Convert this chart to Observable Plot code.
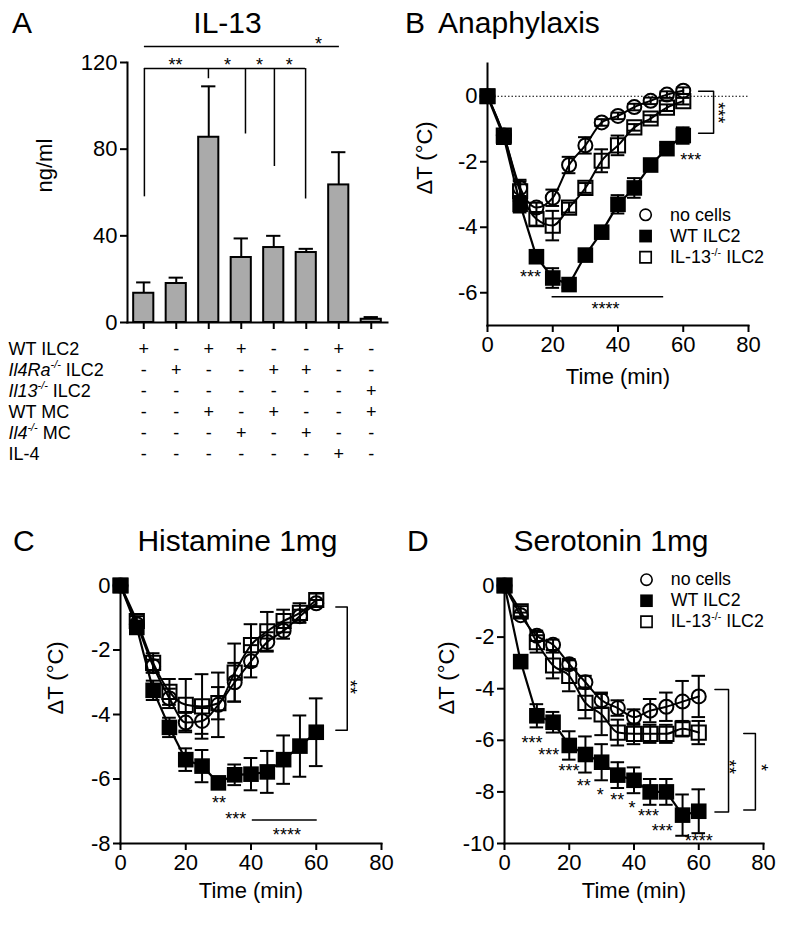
<!DOCTYPE html>
<html><head><meta charset="utf-8">
<script src="https://cdn.jsdelivr.net/npm/d3@7"></script>
<script src="https://cdn.jsdelivr.net/npm/@observablehq/plot@0.6"></script>
<style>
body{margin:0;background:#fff;}
#root{position:relative;width:800px;height:925px;background:#fff;font-family:"Liberation Sans",Arial,sans-serif;color:#000;overflow:hidden;}
.pos{position:absolute;}
.ttl{position:absolute;font-size:30px;line-height:30px;white-space:nowrap;}
.ctr{width:400px;text-align:center;}
</style></head><body><div id="root"></div>
<script>
// ---------- Panel A data ----------
const conditions = [1, 2, 3, 4, 5, 6, 7, 8];
const il13Mean = [13.5, 18, 85.5, 30, 34.6, 32.3, 63.5, 1.5];
const il13Sem = [5, 2.7, 23.5, 8.8, 5.4, 1.7, 15.1, 1.0];
const rowLabels = ["WT ILC2", "Il4Ra-/- ILC2", "Il13-/- ILC2", "WT MC", "Il4-/- MC", "IL-4"];
const rowSigns = [
  ["+", "-", "+", "+", "-", "-", "+", "-"],
  ["-", "+", "-", "-", "+", "+", "-", "-"],
  ["-", "-", "-", "-", "-", "-", "-", "+"],
  ["-", "-", "+", "-", "+", "-", "-", "+"],
  ["-", "-", "-", "+", "-", "+", "-", "-"],
  ["-", "-", "-", "-", "-", "-", "+", "-"]
];
const sigALines = [{x1: 1.02, x2: 7.02, y: 127.4}, {x1: 1.02, x2: 5.98, y: 117.2}];
const sigADrops = [
  {x: 1.02, y1: 117.2, y2: 58}, {x: 2.99, y1: 117.2, y2: 112.5}, {x: 4.13, y1: 117.2, y2: 87},
  {x: 5.02, y1: 117.2, y2: 72}, {x: 5.98, y1: 117.2, y2: 57}
];
const sigAStars = [
  {x: 6.38, y: 130.5, s: "*"}, {x: 1.98, y: 121, s: "**"}, {x: 3.58, y: 121, s: "*"},
  {x: 4.56, y: 121, s: "*"}, {x: 5.48, y: 121, s: "*"}
];

// ---------- Time course data ----------
const time = [0, 5, 10, 15, 20, 25, 30, 35, 40, 45, 50, 55, 60];
const legendNames = ["no cells", "WT ILC2", "IL-13-/- ILC2"];

// B: Anaphylaxis
const bNoCells    = [0, -1.2, -2.8, -3.4, -3.1, -2.1, -1.5, -0.8, -0.6, -0.33, -0.14, 0.05, 0.17];
const bNoCellsErr = [0, 0.1, 0.25, 0.15, 0.25, 0.25, 0.25, 0.1, 0.1, 0.1, 0.1, 0.1, 0.1];
const bWT         = [0, -1.25, -3.3, -4.9, -5.55, -5.75, -4.85, -4.15, -3.3, -2.8, -2.1, -1.6, -1.2];
const bWTErr      = [0, 0.2, 0.25, 0.15, 0.3, 0.1, 0.15, 0.1, 0.28, 0.3, 0.1, 0.1, 0.25];
const bKO         = [0, -1.2, -2.9, -3.75, -3.95, -3.4, -2.8, -1.97, -1.5, -0.95, -0.68, -0.35, -0.15];
const bKOErr      = [0, 0.15, 0.3, 0.2, 0.45, 0.15, 0.15, 0.35, 0.3, 0.1, 0.1, 0.1, 0.1];
const bStars = [{t: 62.3, y: -1.82, s: "***"}, {t: 13.2, y: -5.4, s: "***"}, {t: 36.2, y: -6.38, s: "****"}];
const bLines = [{t1: 19.8, t2: 54, y: -6.12}];
const bBrackets = [{x: 69.3, tick: 64.7, y1: 0.15, y2: -1.13}];
const bBracketLabels = [{t: 71.9, y: -0.5, s: "***"}];

// C: Histamine
const cNoCells    = [0, -1.2, -2.5, -3.5, -4.25, -4.2, -3.7, -3.0, -2.35, -1.75, -1.4, -0.95, -0.55];
const cNoCellsErr = [0, 0.1, 0.2, 0.3, 0.3, 0.4, 1.0, 0.6, 0.5, 0.3, 0.25, 0.2, 0.1];
const cWT         = [0, -1.3, -3.25, -4.4, -5.4, -5.6, -6.12, -5.87, -5.85, -5.78, -5.4, -4.98, -4.55];
const cWTErr      = [0, 0.1, 0.3, 0.3, 0.35, 0.5, 0.1, 0.32, 0.5, 0.65, 0.75, 0.95, 1.05];
const cKO         = [0, -1.1, -2.4, -3.3, -3.7, -3.75, -3.65, -2.7, -1.85, -1.42, -1.1, -0.85, -0.45];
const cKOErr      = [0, 0.15, 0.3, 0.4, 0.8, 1.0, 0.5, 0.9, 0.65, 0.6, 0.35, 0.3, 0.2];
const cStars = [{t: 30.2, y: -6.6, s: "**"}, {t: 35.3, y: -7.1, s: "***"}, {t: 51, y: -7.6, s: "****"}];
const cLines = [{t1: 40.4, t2: 60.3, y: -7.27}];
const cBrackets = [{x: 69.5, tick: 66, y1: -0.67, y2: -4.49}];
const cBracketLabels = [{t: 71.5, y: -3.15, s: "**"}];

// D: Serotonin
const dNoCells    = [0, -1.15, -1.95, -2.3, -3.05, -3.75, -4.45, -4.75, -5.1, -4.85, -4.7, -4.5, -4.3];
const dNoCellsErr = [0, 0.1, 0.2, 0.2, 0.2, 0.25, 0.3, 0.3, 0.3, 0.45, 0.55, 0.8, 0.8];
const dWT         = [0, -2.95, -5.05, -5.3, -6.2, -6.55, -6.85, -7.35, -7.55, -8.0, -8.0, -8.9, -8.75];
const dWTErr      = [0, 0.15, 0.45, 0.4, 0.55, 0.7, 0.7, 0.5, 0.5, 0.5, 0.5, 0.8, 0.85];
const dKO         = [0, -1.0, -2.2, -3.1, -3.5, -4.55, -5.0, -5.7, -5.75, -5.75, -5.75, -5.55, -5.7];
const dKOErr      = [0, 0.2, 0.4, 0.5, 0.6, 0.6, 0.8, 0.5, 0.4, 0.35, 0.35, 0.3, 0.45];
const dStars = [
  {t: 8.5, y: -5.94, s: "***"}, {t: 13.7, y: -6.39, s: "***"}, {t: 19.9, y: -7.03, s: "***"},
  {t: 24.5, y: -7.6, s: "**"}, {t: 29.6, y: -7.94, s: "*"}, {t: 34.8, y: -8.13, s: "**"},
  {t: 39.4, y: -8.45, s: "*"}, {t: 44.5, y: -8.78, s: "***"}, {t: 48.7, y: -9.36, s: "***"},
  {t: 60, y: -9.72, s: "****"}
];
const dLines = [];
const dBrackets = [{x: 69.2, tick: 65, y1: -4.03, y2: -8.78}, {x: 77.5, tick: 73.9, y1: -5.74, y2: -8.7}];
const dBracketLabels = [{t: 70.7, y: -7.03, s: "**"}, {t: 80.6, y: -7.05, s: "*"}];

// ---------- helpers ----------
const FONT = '"Liberation Sans", Arial, sans-serif';
const FS = 22;
const baseStyle = {fontFamily: FONT, fontSize: FS + "px", color: "black", background: "transparent", overflow: "visible"};
const richMap = {
  "Il4Ra-/- ILC2": [["Il4Ra", "i"], ["-/-", "is"], [" ILC2", ""]],
  "Il13-/- ILC2": [["Il13", "i"], ["-/-", "is"], [" ILC2", ""]],
  "Il4-/- MC": [["Il4", "i"], ["-/-", "is"], [" MC", ""]],
  "IL-13-/- ILC2": [["IL-13", ""], ["-/-", "s"], [" ILC2", ""]]
};
function enrich(node) {
  node.querySelectorAll("text").forEach(t => {
    const parts = richMap[t.textContent];
    if (!parts) return;
    t.textContent = "";
    let raised = false;
    for (const [s, f] of parts) {
      const ts = document.createElementNS("http://www.w3.org/2000/svg", "tspan");
      ts.textContent = s;
      if (f.includes("i")) ts.setAttribute("font-style", "italic");
      if (f.includes("s")) {
        ts.setAttribute("font-size", "60%");
        ts.setAttribute("dy", "-0.7em");
        raised = true;
      } else if (raised) {
        ts.setAttribute("dy", "0.42em");
        raised = false;
      }
      t.appendChild(ts);
    }
  });
}
const root = document.getElementById("root");
function place(node, left, top) {
  const div = document.createElement("div");
  div.className = "pos";
  div.style.left = left + "px";
  div.style.top = top + "px";
  div.appendChild(node);
  root.appendChild(div);
  enrich(div);
}
function title(text, left, top, centered) {
  const div = document.createElement("div");
  div.className = "ttl" + (centered ? " ctr" : "");
  div.style.left = (centered ? left - 200 : left) + "px";
  div.style.top = top + "px";
  div.textContent = text;
  root.appendChild(div);
}
const series = (vals, errs) => time.map((t, i) => ({t, v: vals[i], e: errs[i]}));

// ---------- Panel A ----------
const barData = conditions.map((i, k) => ({i, v: il13Mean[k], e: il13Sem[k]}));
place(Plot.plot({
  width: 400, height: 336, marginLeft: 127, marginRight: 13, marginTop: 62, marginBottom: 14,
  x: {domain: [0.5, 8.5]}, y: {domain: [0, 120]},
  style: baseStyle,
  marks: [
    Plot.ruleX(barData, {x: "i", y1: "v", y2: d => d.v + d.e, strokeWidth: 2}),
    Plot.ruleY(barData, {y: d => d.v + d.e, x1: d => d.i - 0.22, x2: d => d.i + 0.22, strokeWidth: 2}),
    Plot.rect(barData, {x1: d => d.i - 0.31, x2: d => d.i + 0.31, y1: d => 0, y2: "v", fill: "#aaaaaa", stroke: "black", strokeWidth: 2}),
    Plot.ruleY(sigALines, {y: "y", x1: "x1", x2: "x2", strokeWidth: 1.5}),
    Plot.ruleX(sigADrops, {x: "x", y1: "y1", y2: "y2", strokeWidth: 1.5}),
    Plot.text(sigAStars, {x: "x", y: "y", text: "s", fontSize: 18, dy: 4.5}),
    Plot.frame({anchor: "left", strokeWidth: 2}),
    Plot.frame({anchor: "bottom", strokeWidth: 2}),
    Plot.axisY({ticks: [0, 40, 80, 120], tickSize: 7, tickPadding: 3, strokeWidth: 2, tickFormat: d => String(d), label: null, fontSize: FS}),
    Plot.axisX({ticks: conditions, tickSize: 7, strokeWidth: 2, tickFormat: () => "", label: null}),
    Plot.text(["ng/ml"], {text: d => d, frameAnchor: "left", rotate: -90, dx: -83, fontSize: FS})
  ]
}), 0, 0);

// table of conditions
const tableData = rowLabels.flatMap((r, ri) => conditions.map((c, ci) => ({r, c, s: rowSigns[ri][ci]})));
place(Plot.plot({
  width: 400, height: 130, marginLeft: 127, marginRight: 13, marginTop: 0, marginBottom: 0,
  x: {domain: [0.5, 8.5], axis: null},
  y: {type: "band", domain: rowLabels, padding: 0, axis: null},
  style: {...baseStyle, fontSize: "18px"},
  marks: [
    Plot.text(tableData, {x: "c", y: "r", text: "s", fontSize: 18}),
    Plot.text(rowLabels, {y: d => d, text: d => d, frameAnchor: "left", textAnchor: "start", dx: -119, fontSize: 18})
  ]
}), 0, 336);

// ---------- time course panels ----------
function curvePanel(o) {
  const nc = series(o.noCells, o.noCellsErr);
  const wt = series(o.wt, o.wtErr);
  const ko = series(o.ko, o.koErr);
  const all = [...nc, ...ko, ...wt].filter(d => d.e > 0);
  const bracketPts = o.brackets.flatMap((b, k) => [
    {k, t: b.tick, y: b.y1}, {k, t: b.x, y: b.y1}, {k, t: b.x, y: b.y2}, {k, t: b.tick, y: b.y2}
  ]);
  return Plot.plot({
    width: 400, height: o.height,
    marginLeft: o.ml, marginRight: o.mr, marginTop: o.mt, marginBottom: o.mb,
    x: {domain: [0, 80]}, y: {domain: o.yDomain},
    style: baseStyle,
    marks: [
      ...(o.zeroLine ? [Plot.ruleY([0], {strokeWidth: 1, strokeDasharray: "1.5,2"})] : []),
      Plot.ruleX(all, {x: "t", y1: d => d.v - d.e, y2: d => d.v + d.e, strokeWidth: 2}),
      Plot.ruleY(all, {y: d => d.v + d.e, x1: d => d.t - 2.1, x2: d => d.t + 2.1, strokeWidth: 2}),
      Plot.ruleY(all, {y: d => d.v - d.e, x1: d => d.t - 2.1, x2: d => d.t + 2.1, strokeWidth: 2}),
      Plot.line(nc, {x: "t", y: "v", curve: "monotone-x", strokeWidth: 2}),
      Plot.line(ko, {x: "t", y: "v", curve: "monotone-x", strokeWidth: 2}),
      Plot.line(wt, {x: "t", y: "v", strokeWidth: 2.2}),
      Plot.dot(nc, {x: "t", y: "v", r: 7, stroke: "black", strokeWidth: 2, fill: "none"}),
      Plot.dot(ko, {x: "t", y: "v", symbol: "square", r: 8, stroke: "black", strokeWidth: 2, fill: "none"}),
      Plot.dot(wt, {x: "t", y: "v", symbol: "square", r: 8.8, fill: "black", stroke: "none"}),
      Plot.ruleY(o.lines, {y: "y", x1: "t1", x2: "t2", strokeWidth: 1.5}),
      Plot.line(bracketPts, {x: "t", y: "y", z: "k", strokeWidth: 1.5}),
      Plot.text(o.stars, {x: "t", y: "y", text: "s", fontSize: 18, dy: 4.5}),
      Plot.text(o.bracketLabels, {x: "t", y: "y", text: "s", fontSize: 18, rotate: 90, dx: -4.5, fill: "black"}),
      Plot.frame({anchor: "left", strokeWidth: 2}),
      Plot.frame({anchor: "bottom", strokeWidth: 2}),
      Plot.axisY({ticks: o.yTicks, tickSize: 7, tickPadding: 3, strokeWidth: 2, tickFormat: d => String(d), label: null, fontSize: FS}),
      Plot.axisX({ticks: [0, 20, 40, 60, 80], tickSize: 7, tickPadding: 4, strokeWidth: 2, tickFormat: d => String(d), label: null, fontSize: FS}),
      Plot.text(["ΔT (°C)"], {text: d => d, frameAnchor: "left", rotate: -90, dx: o.ylabDx, fontSize: FS}),
      Plot.text(["Time (min)"], {text: d => d, frameAnchor: "bottom", dy: o.xlabDy, fontSize: FS})
    ]
  });
}
function legendPlot() {
  return Plot.plot({
    width: 200, height: 80, marginLeft: 10, marginRight: 20, marginTop: 0, marginBottom: 0,
    y: {type: "band", domain: legendNames, padding: 0, axis: null},
    style: baseStyle,
    marks: [
      Plot.dot([legendNames[0]], {y: d => d, frameAnchor: "left", r: 7, stroke: "black", strokeWidth: 2, fill: "none"}),
      Plot.dot([legendNames[1]], {y: d => d, frameAnchor: "left", symbol: "square", r: 8.8, fill: "black", stroke: "none"}),
      Plot.dot([legendNames[2]], {y: d => d, frameAnchor: "left", symbol: "square", r: 7.8, stroke: "black", strokeWidth: 2, fill: "none"}),
      Plot.text(legendNames, {y: d => d, text: d => d, frameAnchor: "left", textAnchor: "start", dx: 30, fontSize: FS})
    ]
  });
}

place(curvePanel({
  noCells: bNoCells, noCellsErr: bNoCellsErr, wt: bWT, wtErr: bWTErr, ko: bKO, koErr: bKOErr,
  height: 400, ml: 87, mr: 52, mt: 63, mb: 75, yDomain: [-7, 1], yTicks: [0, -2, -4, -6],
  stars: bStars, lines: bLines, brackets: bBrackets, bracketLabels: bBracketLabels,
  zeroLine: true, ylabDx: -63, xlabDy: 58
}), 400, 0);
place(legendPlot(), 636.7, 202.5);

place(curvePanel({
  noCells: cNoCells, noCellsErr: cNoCellsErr, wt: cWT, wtErr: cWTErr, ko: cKO, koErr: cKOErr,
  height: 425, ml: 120, mr: 19, mt: 85, mb: 82, yDomain: [-8, 0], yTicks: [0, -2, -4, -6, -8],
  stars: cStars, lines: cLines, brackets: cBrackets, bracketLabels: cBracketLabels,
  zeroLine: false, ylabDx: -65, xlabDy: 54
}), 0, 500);

place(curvePanel({
  noCells: dNoCells, noCellsErr: dNoCellsErr, wt: dWT, wtErr: dWTErr, ko: dKO, koErr: dKOErr,
  height: 425, ml: 104, mr: 37, mt: 85, mb: 82, yDomain: [-10, 0], yTicks: [0, -2, -4, -6, -8, -10],
  stars: dStars, lines: dLines, brackets: dBrackets, bracketLabels: dBracketLabels,
  zeroLine: false, ylabDx: -58, xlabDy: 54
}), 400, 500);
place(legendPlot(), 638.3, 568.3);

// ---------- titles ----------
title("A", 12, 8, false);
title("IL-13", 227.5, 8, true);
title("B", 405, 8, false);
title("Anaphylaxis", 519, 8, true);
title("C", 13, 526, false);
title("Histamine 1mg", 237.5, 526, true);
title("D", 407, 526, false);
title("Serotonin 1mg", 611, 526, true);
</script></body></html>
